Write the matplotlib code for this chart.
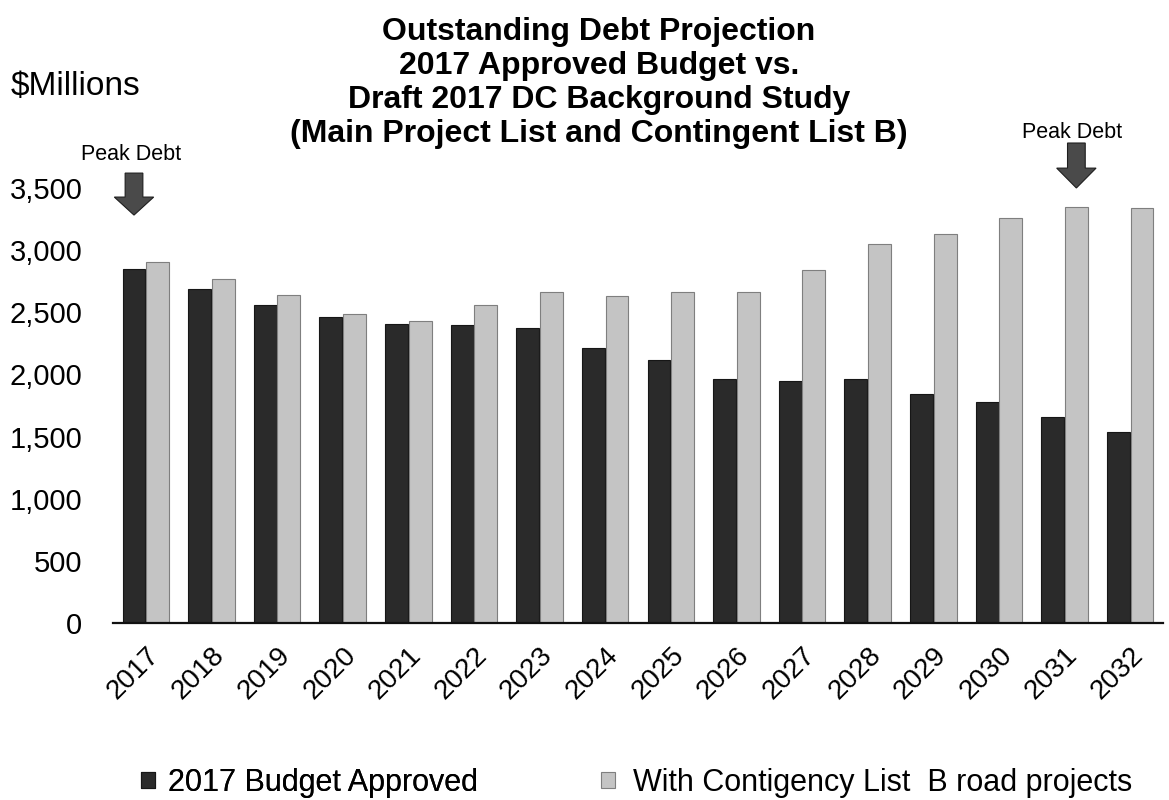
import matplotlib
matplotlib.use("Agg")
import matplotlib.pyplot as plt
from matplotlib.patches import FancyArrow
import numpy as np

# ---- data ----
years = ["2017", "2018", "2019", "2020", "2021", "2022", "2023", "2024",
         "2025", "2026", "2027", "2028", "2029", "2030", "2031", "2032"]
budget_approved = [2850, 2690, 2555, 2460, 2405, 2400, 2370, 2215,
                   2120, 1960, 1950, 1960, 1840, 1775, 1660, 1540]
with_contingency = [2905, 2765, 2640, 2490, 2430, 2555, 2660, 2635,
                    2665, 2665, 2840, 3050, 3130, 3255, 3350, 3340]
y_ticks = [0, 500, 1000, 1500, 2000, 2500, 3000, 3500]
series_labels = ["2017 Budget Approved", "With Contigency List  B road projects"]
title_lines = ["Outstanding Debt Projection",
               "2017 Approved Budget vs.",
               "Draft 2017 DC Background Study",
               "(Main Project List and Contingent List B)"]
peak_label = "Peak Debt"

plt.rcParams['font.family'] = ['Liberation Sans', 'DejaVu Sans']

W, H = 1169, 800
fig = plt.figure(figsize=(W / 100, H / 100), dpi=100)
ax = fig.add_axes([113 / W, (H - 623) / H, (1163 - 113) / W, (623 - 188) / H])

x = np.arange(len(years))
bw = 0.35
dark = '#2a2a2a'
light = '#c4c4c4'
b1 = ax.bar(x - 0.18, budget_approved, bw, color=dark, edgecolor='#161616', linewidth=0.8)
b2 = ax.bar(x + 0.18, with_contingency, bw, color=light, edgecolor='#7f7f7f', linewidth=0.8)

ax.set_xlim(-0.5, len(years) - 0.5)
ax.set_ylim(0, 3500)
ax.set_yticks(y_ticks)
ax.set_yticklabels([f"{v:,}" for v in y_ticks], fontsize=21)
ax.set_xticks(x)
ax.set_xticklabels(years, fontsize=20, rotation=45, ha='right', va='top',
                   rotation_mode='anchor')
ax.tick_params(axis='y', length=0, pad=22)
ax.tick_params(axis='x', length=0, pad=14)
for s in ['left', 'top', 'right']:
    ax.spines[s].set_visible(False)
ax.spines['bottom'].set_linewidth(1.6)
ax.spines['bottom'].set_color('#111111')

# Peak debt arrows (over 2017 budget bar and 2031 contingency bar)
def peak_arrow(xc, y_top, y_tip, head_start):
    arr = FancyArrow(xc, y_top, 0, -(y_top - y_tip), width=0.27, head_width=0.6,
                     head_length=(head_start - y_tip), length_includes_head=True,
                     facecolor='#4a4a4a', edgecolor='#1e1e1e', linewidth=0.8,
                     clip_on=False)
    ax.add_patch(arr)

peak_arrow(x[0] - 0.18, 3620, 3282, 3427)
peak_arrow(x[14] + 0.18, 3862, 3500, 3660)

fig.text(131 / W, 1 - 155 / H, peak_label, fontsize=15.5, ha='center', va='center')
fig.text(1072 / W, 1 - 132 / H, peak_label, fontsize=15.5, ha='center', va='center')

# titles
for i, line in enumerate(title_lines):
    fig.text(599 / W, 1 - (32 + 34 * i) / H, line, fontsize=23, fontweight='bold',
             ha='center', va='center')
fig.text(11 / W, 1 - 86 / H, "$Millions", fontsize=24, ha='left', va='center')

# legend
leg1 = fig.legend([b1], [series_labels[0]], loc='center left',
                  bbox_to_anchor=(141 / W, 1 - 783 / H), frameon=False, fontsize=22,
                  handlelength=0.45, handleheight=0.45, handletextpad=0.45,
                  borderpad=0, borderaxespad=0)
fig.add_artist(leg1)
fig.legend([b2], [series_labels[1]], loc='center left',
           bbox_to_anchor=(601 / W, 1 - 783 / H), frameon=False, fontsize=22,
           handlelength=0.45, handleheight=0.45, handletextpad=0.6,
           borderpad=0, borderaxespad=0)

fig.savefig("out.png", dpi=100)
